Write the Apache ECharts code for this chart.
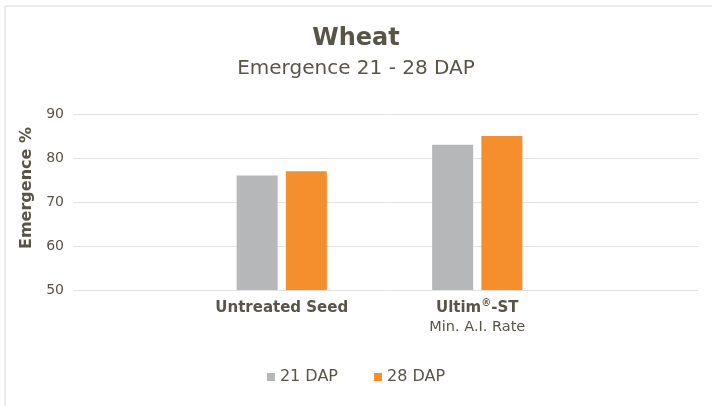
<!DOCTYPE html>
<html>
<head>
<meta charset="utf-8">
<script src="https://cdn.jsdelivr.net/npm/echarts@6/dist/echarts.min.js"></script>
<style>
  html, body { margin: 0; padding: 0; background: #fff; }
  #chart { width: 712px; height: 406px; }
</style>
</head>
<body>
<div id="chart"></div>
<script>
const categories = ['Untreated Seed', 'Ultim®-ST\nMin. A.I. Rate']
const dap21 = [76, 83]
const dap28 = [77, 85]
const seriesNames = ['21 DAP', '28 DAP']

const textColor = '#595448'
const font = 'DejaVu Sans'

const chart = echarts.init(document.getElementById('chart'))

// first line bold, the ® raised, later lines plain
const catLabel = (v) => {
  const lines = v.split('\n')
  return lines.map((l, i) => {
    if (i > 0) return '{s|' + l + '}'
    return l.split('®').map(p => '{b|' + p + '}').join('{sup|®}')
  }).join('\n')
}

const option = {
  backgroundColor: '#fff',
  color: ['#b6b7b9', '#f58e2c'],
  textStyle: { fontFamily: font },
  graphic: [{
    type: 'rect',
    shape: { x: 5, y: 6, width: 720, height: 420 },
    style: { fill: 'none', stroke: '#d9d9d9', lineWidth: 1 },
    silent: true
  }],
  title: {
    text: 'Wheat',
    subtext: 'Emergence 21 - 28 DAP',
    left: 'center',
    top: 22,
    itemGap: 8,
    textStyle: { color: textColor, fontSize: 24, fontWeight: 'bold', fontFamily: font },
    subtextStyle: { color: textColor, fontSize: 20, fontFamily: font }
  },
  legend: {
    data: seriesNames,
    bottom: 16,
    left: 'center',
    icon: 'rect',
    itemWidth: 8,
    itemHeight: 8,
    itemGap: 36,
    textStyle: { color: textColor, fontSize: 16, fontFamily: font }
  },
  grid: [
    { left: 73, right: 14, top: 114, bottom: 116 },
    { left: 184, right: 137, top: 114, bottom: 116 }
  ],
  xAxis: [
    { type: 'value', gridIndex: 0, show: false, min: 0, max: 1 },
    {
      type: 'category',
      gridIndex: 1,
      data: categories,
      axisLine: { show: false },
      axisTick: { show: false },
      axisLabel: {
        interval: 0,
        margin: 8,
        formatter: catLabel,
        rich: {
          b: { fontSize: 15, fontWeight: 'bold', color: textColor, fontFamily: font, lineHeight: 20 },
          sup: { fontSize: 10, fontWeight: 'bold', color: textColor, fontFamily: font, verticalAlign: 'top', lineHeight: 20, padding: [0, 0, 6, 0] },
          s: { fontSize: 14.5, color: textColor, fontFamily: font, lineHeight: 18 }
        }
      }
    }
  ],
  yAxis: [
    {
      type: 'value',
      gridIndex: 0,
      min: 50,
      max: 90,
      interval: 10,
      name: 'Emergence %',
      nameLocation: 'middle',
      nameRotate: 90,
      nameGap: 33,
      nameTextStyle: { color: textColor, fontSize: 16, fontWeight: 'bold', fontFamily: font, padding: [0, 0, 0, 28] },
      axisLine: { show: false },
      axisTick: { show: false },
      axisLabel: { color: textColor, fontSize: 14, margin: 9, fontFamily: font },
      splitLine: { lineStyle: { color: '#e3e3e3', width: 1 } }
    },
    {
      type: 'value',
      gridIndex: 1,
      min: 50,
      max: 90,
      interval: 10,
      show: false,
      splitLine: { show: false }
    }
  ],
  series: [
    {
      name: seriesNames[0],
      type: 'bar',
      xAxisIndex: 1,
      yAxisIndex: 1,
      data: dap21,
      barWidth: 41,
      barGap: '20%'
    },
    {
      name: seriesNames[1],
      type: 'bar',
      xAxisIndex: 1,
      yAxisIndex: 1,
      data: dap28,
      barWidth: 41,
      barGap: '20%'
    }
  ]
}

chart.setOption(option)
</script>
</body>
</html>
